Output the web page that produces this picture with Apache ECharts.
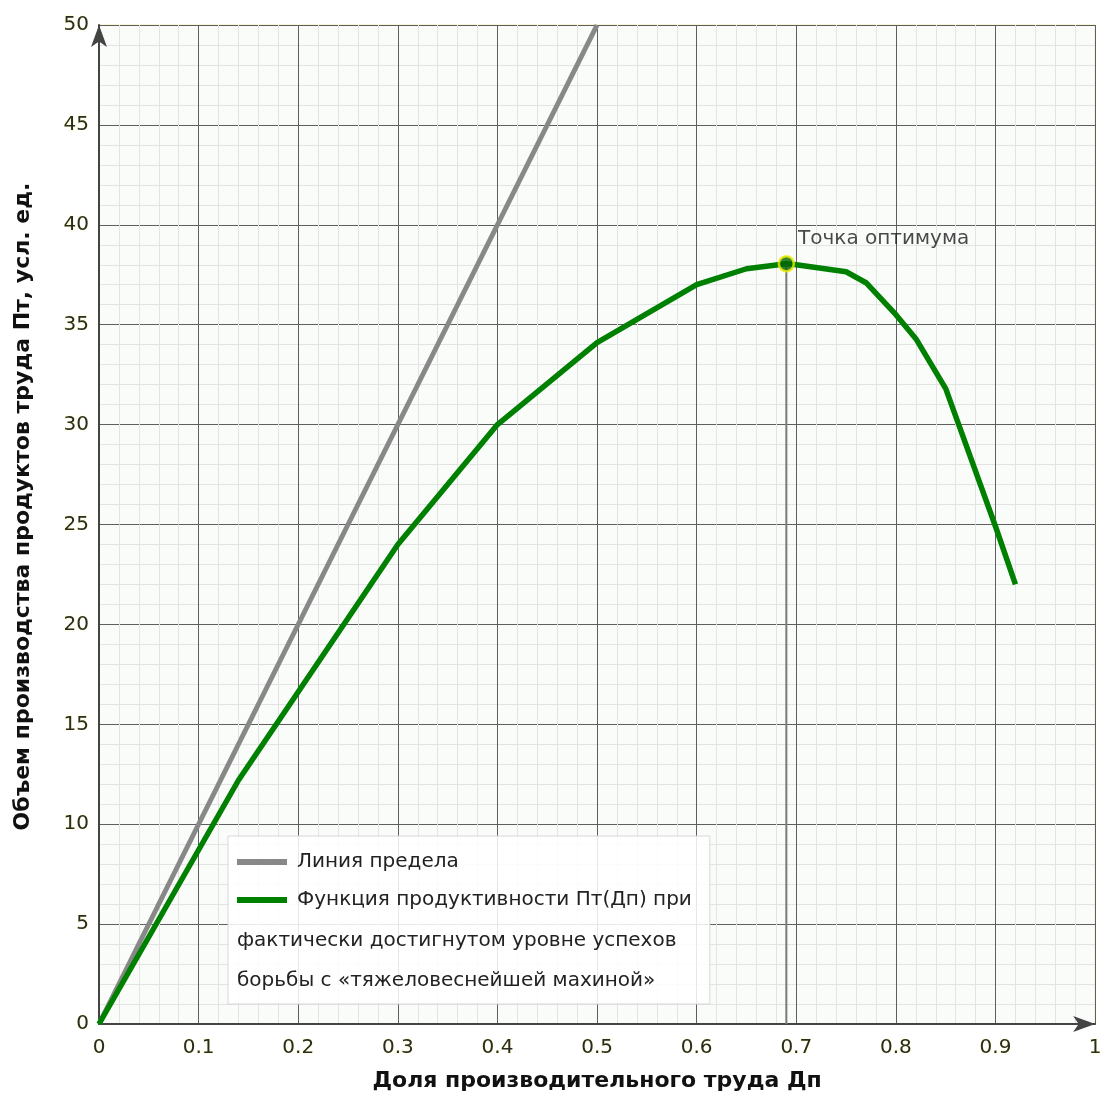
<!DOCTYPE html>
<html>
<head>
<meta charset="utf-8">
<script src="https://cdn.jsdelivr.net/npm/echarts@6/dist/echarts.min.js"></script>
<style>html,body{margin:0;padding:0;background:#fff}#c{width:1105px;height:1097px}</style>
</head>
<body>
<div id="c"></div>
<script>
// ---- data ----
const xTicks = ['0','0.1','0.2','0.3','0.4','0.5','0.6','0.7','0.8','0.9','1'];
const yTicks = ['0','5','10','15','20','25','30','35','40','45','50'];
const limitX = [0, 0.5];
const limitY = [0, 50];
const prodX = [0, 0.14, 0.3, 0.4, 0.5, 0.6, 0.65, 0.69, 0.7, 0.75, 0.77, 0.8, 0.82, 0.85, 0.9, 0.92];
const prodY = [0, 12.2, 24, 30, 34.1, 37, 37.8, 38.05, 38, 37.65, 37.1, 35.5, 34.3, 31.8, 24.9, 22];
const optimum = [0.69, 38.05];
const optimumLabel = 'Точка оптимума';
const nameLimit = 'Линия предела';
const nameProdLines = ['Функция продуктивности Пт(Дп) при', 'фактически достигнутом уровне успехов', 'борьбы с «тяжеловеснейшей махиной»'];
const xTitle = 'Доля производительного труда Дп';
const yTitle = 'Объем производства продуктов труда Пт, усл. ед.';

const nameProd = nameProdLines.join(' ');
const zip = (a, b) => a.map((v, i) => [v, b[i]]);

const FONT = '"DejaVu Sans", "Liberation Sans", Arial, sans-serif';
const tickStyle = {color: '#2a2a2a', fontSize: 20, fontFamily: FONT, textBorderColor: 'rgba(255,255,120,0.5)', textBorderWidth: 1};

const chart = echarts.init(document.getElementById('c'), null, {renderer: 'canvas'});
chart.setOption({
  animation: false,
  backgroundColor: '#ffffff',
  grid: {left: 99, right: 5, top: 25, bottom: 72, show: true, backgroundColor: '#fafcfa', borderColor: '#eeeeb0', borderWidth: 1},
  xAxis: {
    type: 'value', min: 0, max: 1, interval: 0.1,
    name: xTitle, nameLocation: 'middle', nameGap: 46,
    nameTextStyle: {fontSize: 22, fontWeight: 'bold', color: '#111', fontFamily: FONT},
    axisLine: {show: true, symbol: ['none', 'arrow'], symbolSize: [12, 22], lineStyle: {color: '#444', width: 2}},
    axisTick: {show: false},
    axisLabel: Object.assign({margin: 14, formatter: (v, i) => xTicks[i]}, tickStyle),
    splitLine: {show: true, lineStyle: {color: '#5e5e5e', width: 1}},
    minorTick: {show: false, splitNumber: 5},
    minorSplitLine: {show: true, lineStyle: {color: '#e3e3e3', width: 1}}
  },
  yAxis: {
    type: 'value', min: 0, max: 50, interval: 5,
    name: yTitle, nameLocation: 'middle', nameGap: 65, nameRotate: 90,
    nameTextStyle: {fontSize: 22, fontWeight: 'bold', color: '#111', fontFamily: FONT, padding: [0, 0, 0, 36]},
    axisLine: {show: true, symbol: ['none', 'arrow'], symbolSize: [12, 22], lineStyle: {color: '#444', width: 2}},
    axisTick: {show: false},
    axisLabel: Object.assign({margin: 10, formatter: (v, i) => yTicks[i]}, tickStyle),
    splitLine: {show: true, lineStyle: {color: '#5e5e5e', width: 1}},
    minorTick: {show: false, splitNumber: 5},
    minorSplitLine: {show: true, lineStyle: {color: '#e3e3e3', width: 1}}
  },
  legend: {
    orient: 'vertical', left: 228, top: 836,
    padding: [16, 18, 94, 9],
    itemGap: 18, itemWidth: 50, itemHeight: 6, icon: 'rect',
    backgroundColor: 'rgba(255,255,255,0.85)', borderColor: '#d8d8d8', borderWidth: 1,
    textStyle: {fontSize: 20, color: '#222', fontFamily: FONT, padding: [0, 0, 0, 5]},
    formatter: n => n === nameProd ? nameProdLines[0] : n,
    data: [nameLimit, nameProd]
  },
  graphic: [
    {type: 'text', left: 237, top: 931, z: 100, style: {text: nameProdLines[1], fill: '#222', font: '20px ' + FONT}},
    {type: 'text', left: 237, top: 971, z: 100, style: {text: nameProdLines[2], fill: '#222', font: '20px ' + FONT}}
  ],
  series: [
    {name: nameLimit, type: 'line', data: zip(limitX, limitY), symbol: 'none', lineStyle: {color: '#888888', width: 5}, itemStyle: {color: '#888888'}, z: 3},
    {name: nameProd, type: 'line', data: zip(prodX, prodY), symbol: 'none', lineStyle: {color: '#008000', width: 5.5}, itemStyle: {color: '#008000'}, z: 4},
    {name: 'opt-line', type: 'line', data: [[optimum[0], 0], optimum], symbol: 'none', lineStyle: {color: '#7a7a7a', width: 2}, silent: true, z: 5},
    {name: 'opt', type: 'scatter', data: [optimum], symbolSize: 15, z: 6,
     itemStyle: {color: '#006400', borderColor: '#f0f000', borderWidth: 2.5},
     label: {show: true, position: 'right', distance: 3, offset: [0, -25], formatter: optimumLabel, fontSize: 20, color: '#1a1a1a', fontFamily: FONT}}
  ]
});
</script>
</body>
</html>
